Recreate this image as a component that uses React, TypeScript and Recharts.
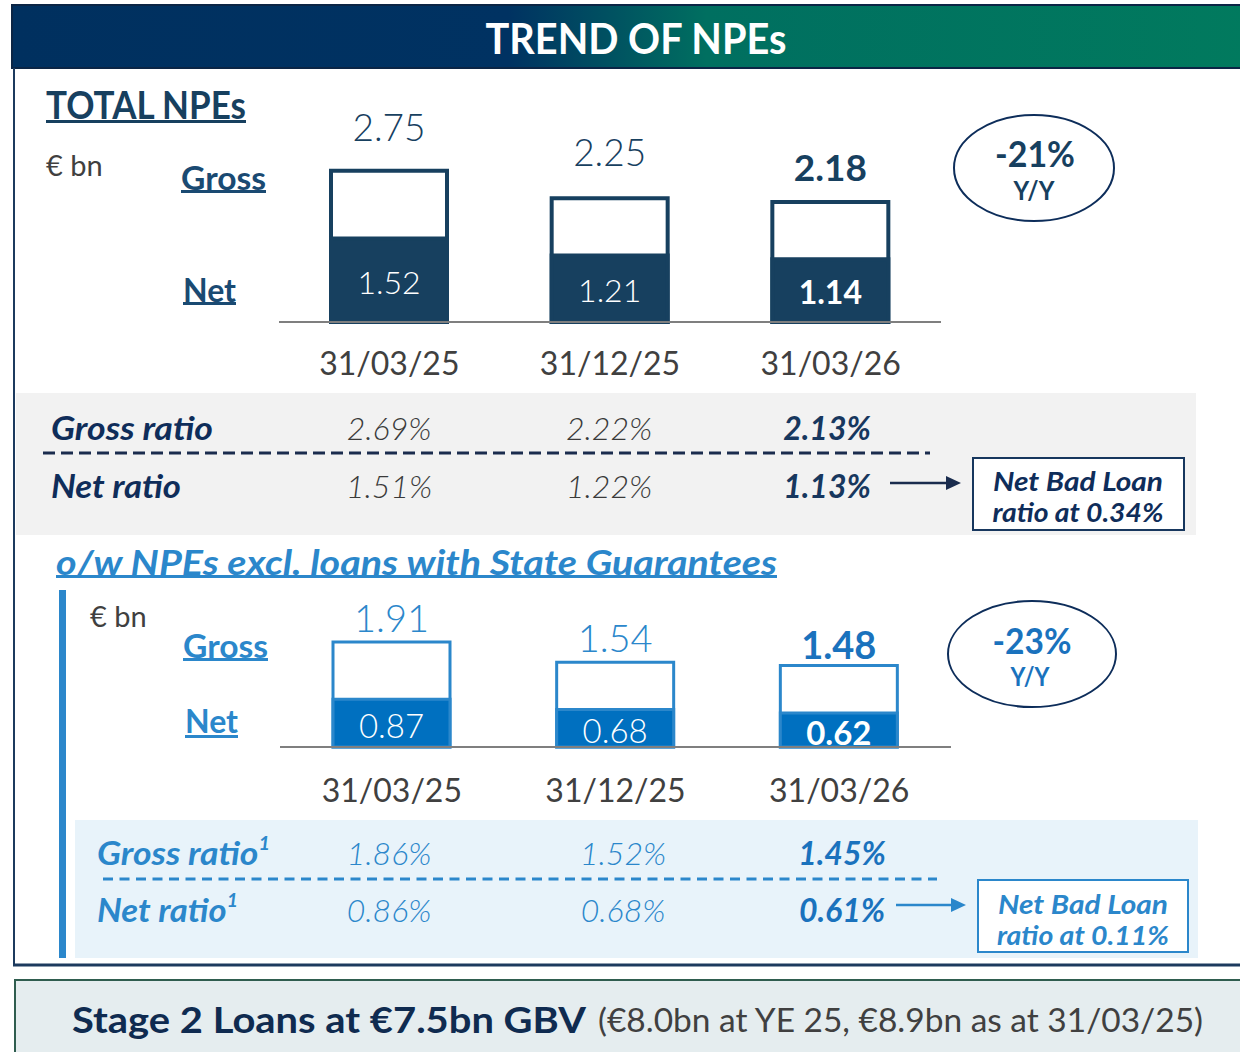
import React from 'react';
import { BarChart, Bar, XAxis, YAxis, LabelList } from 'recharts';

// ---------- DATA ----------
const categories = ['31/03/25', '31/12/25', '31/03/26'];
const totalGross = [2.75, 2.25, 2.18];
const totalNet = [1.52, 1.21, 1.14];
const totalGrossRatio = ['2.69%', '2.22%', '2.13%'];
const totalNetRatio = ['1.51%', '1.22%', '1.13%'];
const exclGross = [1.91, 1.54, 1.48];
const exclNet = [0.87, 0.68, 0.62];
const exclGrossRatio = ['1.86%', '1.52%', '1.45%'];
const exclNetRatio = ['0.86%', '0.68%', '0.61%'];
const totalYoY = '-21%';
const exclYoY = '-23%';
const totalNetBadLoan = 'ratio at 0.34%';
const exclNetBadLoan = 'ratio at 0.11%';
const stage2Main = 'Stage 2 Loans at €7.5bn GBV';
const stage2Note = '(€8.0bn at YE 25, €8.9bn as at 31/03/25)';

const totalData = categories.map((c, i) => ({ cat: c, gross: totalGross[i], net: totalNet[i] }));
const exclData = categories.map((c, i) => ({ cat: c, gross: exclGross[i], net: exclNet[i] }));

// ---------- STYLE ----------
const FONT = "Lato, 'Open Sans', 'DejaVu Sans', sans-serif";
const NAVY = '#17405f';
const DARK = '#0f2d5a';
const LBL = '#1a4a72';
const BLUE = '#2b87cb';
const BLUE_B = '#1a72bd';
const BLUE_FILL = '#0070c0';
const GREY = '#404040';

type TP = {
  x: number; y: number; children: React.ReactNode; size: number; color: string;
  weight?: number; italic?: boolean; anchor?: 'start' | 'middle' | 'end'; len?: number;
};
const T = ({ x, y, children, size, color, weight = 400, italic = false, anchor = 'start', len }: TP) => (
  <text
    x={x}
    y={y}
    dominantBaseline="central"
    textAnchor={anchor}
    fontFamily={FONT}
    fontSize={size}
    fontWeight={weight}
    fontStyle={italic ? 'italic' : 'normal'}
    fill={color}
    textLength={len}
    lengthAdjust={len ? 'spacingAndGlyphs' : undefined}
  >
    {children}
  </text>
);

function geom(p: any) {
  const vb = p && p.viewBox && typeof p.viewBox.x === 'number' ? p.viewBox : p;
  return { x: Number(vb.x), y: Number(vb.y), w: Number(vb.width), h: Number(vb.height) };
}

type ChartProps = {
  data: { cat: string; gross: number; net: number }[];
  left: number; top: number; width: number; height: number;
  marginTop: number; axisH: number; yMax: number;
  barW: number; grossStroke: string; grossSW: number;
  netFill: string; netStroke: string; netSW: number;
  topColor: string; topBoldColor: string; topGaps: number[]; topSize: number;
  netSize: number; netDy: number; tickDy: number;
};

function NpeBars(c: ChartProps) {
  const topLabel = (p: any) => {
    const g = geom(p);
    const i = Number(p.index ?? 0);
    const bold = i === c.data.length - 1;
    return (
      <text
        x={g.x + g.w / 2}
        y={g.y - c.topGaps[i]}
        textAnchor="middle"
        dominantBaseline="central"
        fontFamily={FONT}
        fontSize={c.topSize}
        fontWeight={bold ? 700 : 300}
        fill={bold ? c.topBoldColor : c.topColor}
      >
        {Number(p.value).toFixed(2)}
      </text>
    );
  };
  const netLabel = (p: any) => {
    const g = geom(p);
    const i = Number(p.index ?? 0);
    const bold = i === c.data.length - 1;
    return (
      <text
        x={g.x + g.w / 2}
        y={g.y + g.h / 2 + c.netDy}
        textAnchor="middle"
        dominantBaseline="central"
        fontFamily={FONT}
        fontSize={c.netSize}
        fontWeight={bold ? 700 : 300}
        fill="#ffffff"
      >
        {Number(p.value).toFixed(2)}
      </text>
    );
  };
  const tick = (p: any) => (
    <text
      x={p.x}
      y={p.y + c.tickDy}
      textAnchor="middle"
      dominantBaseline="central"
      fontFamily={FONT}
      fontSize={32}
      fontWeight={400}
      fill={GREY}
    >
      {p.payload.value}
    </text>
  );
  return (
    <div style={{ position: 'absolute', left: c.left, top: c.top, width: c.width, height: c.height }}>
      <BarChart
        width={c.width}
        height={c.height}
        data={c.data}
        margin={{ top: c.marginTop, right: 0, bottom: 0, left: 0 }}
      >
        <XAxis
          xAxisId="g"
          dataKey="cat"
          height={c.axisH}
          tickLine={false}
          tickSize={0}
          tickMargin={0}
          axisLine={{ stroke: '#7f7f7f', strokeWidth: 2 }}
          tick={tick}
          interval={0}
        />
        <XAxis xAxisId="n" dataKey="cat" hide />
        <YAxis hide domain={[0, c.yMax]} />
        <Bar
          xAxisId="g"
          dataKey="gross"
          barSize={c.barW}
          fill="#ffffff"
          stroke={c.grossStroke}
          strokeWidth={c.grossSW}
          isAnimationActive={false}
        >
          <LabelList dataKey="gross" content={topLabel} />
        </Bar>
        <Bar
          xAxisId="n"
          dataKey="net"
          barSize={c.barW}
          fill={c.netFill}
          stroke={c.netStroke}
          strokeWidth={c.netSW}
          isAnimationActive={false}
        >
          <LabelList dataKey="net" content={netLabel} />
        </Bar>
      </BarChart>
    </div>
  );
}

const colTop = [389, 609, 827];
const colBot = [389, 623, 842];

function RatioRow({ xs, y, values, color, boldColor, size }: { xs: number[]; y: number; values: string[]; color: string; boldColor: string; size: number }) {
  return (
    <>
      {values.map((v, i) => {
        const bold = i === values.length - 1;
        return (
          <T key={i} x={xs[i]} y={y} size={size} color={bold ? boldColor : color} weight={bold ? 700 : 300} italic anchor="middle">
            {v}
          </T>
        );
      })}
    </>
  );
}

export default function App() {
  return (
    <div style={{ position: 'absolute', left: 0, top: 0, width: 1240, height: 1052, background: '#ffffff', overflow: 'hidden' }}>
      <svg width={1240} height={1052} style={{ position: 'absolute', left: 0, top: 0 }}>
        <defs>
          <linearGradient id="titleGrad" x1="0" x2="1" y1="0" y2="0">
            <stop offset="0" stopColor="#00305f" />
            <stop offset="0.40" stopColor="#003262" />
            <stop offset="0.56" stopColor="#006f60" />
            <stop offset="1" stopColor="#017a5e" />
          </linearGradient>
        </defs>

        {/* title bar */}
        <rect x={12} y={5} width={1240} height={63} fill="url(#titleGrad)" stroke="#0b2545" strokeWidth={2} />
        <T x={636} y={38} size={42} weight={700} color="#ffffff" anchor="middle" len={301}>TREND OF NPEs</T>

        {/* frame */}
        <line x1={14} y1={68} x2={14} y2={966} stroke="#1c3a5e" strokeWidth={2} />
        <line x1={13} y1={965} x2={1240} y2={965} stroke="#1c3a5e" strokeWidth={3} />

        {/* grey band */}
        <rect x={16} y={393} width={1180} height={142} fill="#f2f2f2" />

        {/* TOTAL NPEs header */}
        <T x={46} y={104} size={38} weight={700} color={NAVY} len={200}>TOTAL NPEs</T>
        <rect x={46} y={120} width={200} height={3} fill={NAVY} />
        <T x={46} y={164} size={29} color={GREY}>€ bn</T>
        <T x={181} y={177} size={32} weight={700} color={LBL} len={85}>Gross</T>
        <rect x={181} y={190} width={85} height={3} fill={LBL} />
        <T x={183} y={289} size={32} weight={700} color={LBL} len={53}>Net</T>
        <rect x={183} y={302} width={53} height={3} fill={LBL} />

        {/* Y/Y ellipse 1 */}
        <ellipse cx={1034} cy={168} rx={80} ry={53} fill="none" stroke="#0d2d5a" strokeWidth={2} />
        <T x={1035} y={153} size={36} weight={700} color={NAVY} anchor="middle" len={80}>{totalYoY}</T>
        <T x={1034} y={190} size={26} weight={700} color={NAVY} anchor="middle" len={41}>Y/Y</T>

        {/* ratios 1 */}
        <T x={51} y={427} size={32} weight={700} italic color={DARK} len={162}>Gross ratio</T>
        <RatioRow xs={colTop} y={427} values={totalGrossRatio} color="#3a3a3a" boldColor="#17375e" size={32} />
        <line x1={43} y1={453} x2={930} y2={453} stroke="#1a2c4e" strokeWidth={3} strokeDasharray="12 6" />
        <T x={51} y={485} size={32} weight={700} italic color={DARK} len={130}>Net ratio</T>
        <RatioRow xs={colTop} y={485} values={totalNetRatio} color="#3a3a3a" boldColor="#17375e" size={32} />
        <line x1={890} y1={483} x2={948} y2={483} stroke="#1a2c4e" strokeWidth={2.5} />
        <polygon points="946,476 961,483 946,490" fill="#1a2c4e" />
        <rect x={973} y={458} width={211} height={72} fill="#ffffff" stroke="#17375e" strokeWidth={2} />
        <T x={1078} y={480} size={27} weight={700} italic color={DARK} anchor="middle" len={170}>Net Bad Loan</T>
        <T x={1078} y={511} size={27} weight={700} italic color={DARK} anchor="middle" len={171}>{totalNetBadLoan}</T>

        {/* o/w section */}
        <T x={56} y={561} size={34} weight={700} italic color={BLUE} len={721}>o/w NPEs excl. loans with State Guarantees</T>
        <rect x={56} y={575} width={721} height={3} fill={BLUE} />
        <rect x={59} y={590} width={7} height={368} fill={BLUE} />
        <rect x={75} y={820} width={1123} height={138} fill="#e8f3fa" />
        <T x={90} y={615} size={29} color={GREY}>€ bn</T>
        <T x={183} y={645} size={32} weight={700} color={BLUE} len={85}>Gross</T>
        <rect x={183} y={658} width={85} height={3} fill={BLUE} />
        <T x={185} y={720} size={32} weight={700} color={BLUE} len={53}>Net</T>
        <rect x={185} y={735} width={53} height={3} fill={BLUE} />

        {/* Y/Y ellipse 2 */}
        <ellipse cx={1032} cy={654} rx={84} ry={53} fill="none" stroke="#0d2d5a" strokeWidth={2} />
        <T x={1032} y={640} size={36} weight={700} color={BLUE_B} anchor="middle" len={79}>{exclYoY}</T>
        <T x={1030} y={676} size={26} weight={700} color={BLUE_B} anchor="middle" len={39}>Y/Y</T>

        {/* ratios 2 */}
        <text x={97} y={852} dominantBaseline="central" fontFamily={FONT} fontSize={32} fontWeight={700} fontStyle="italic" fill={BLUE} textLength={173} lengthAdjust="spacingAndGlyphs">
          Gross ratio<tspan fontSize={18} dy={-9}>1</tspan>
        </text>
        <RatioRow xs={colBot} y={852} values={exclGrossRatio} color={BLUE} boldColor={BLUE_B} size={32} />
        <line x1={103} y1={879} x2={937} y2={879} stroke={BLUE} strokeWidth={3} strokeDasharray="10 6.5" />
        <text x={97} y={909} dominantBaseline="central" fontFamily={FONT} fontSize={32} fontWeight={700} fontStyle="italic" fill={BLUE} textLength={141} lengthAdjust="spacingAndGlyphs">
          Net ratio<tspan fontSize={18} dy={-9}>1</tspan>
        </text>
        <RatioRow xs={colBot} y={909} values={exclNetRatio} color={BLUE} boldColor={BLUE_B} size={32} />
        <line x1={896} y1={905} x2={953} y2={905} stroke={BLUE} strokeWidth={2.5} />
        <polygon points="951,898 966,905 951,912" fill={BLUE} />
        <rect x={978} y={880} width={210} height={72} fill="#ffffff" stroke={BLUE} strokeWidth={2} />
        <T x={1083} y={903} size={27} weight={700} italic color={BLUE} anchor="middle" len={170}>Net Bad Loan</T>
        <T x={1083} y={934} size={27} weight={700} italic color={BLUE} anchor="middle" len={172}>{exclNetBadLoan}</T>

        {/* bottom stage 2 box */}
        <rect x={15} y={980} width={1240} height={80} fill="#e5edef" stroke="#2f5d4f" strokeWidth={2} />
        <T x={72} y={1019} size={36} weight={700} color="#0f2b50" len={514}>{stage2Main}</T>
        <T x={598} y={1019} size={32} weight={400} color={GREY} len={605}>{stage2Note}</T>
      </svg>

      <NpeBars
        data={totalData}
        left={279} top={100} width={662} height={300}
        marginTop={57} axisH={78} yMax={3}
        barW={116} grossStroke={NAVY} grossSW={4}
        netFill={NAVY} netStroke={NAVY} netSW={4}
        topColor={NAVY} topBoldColor={NAVY} topGaps={[44, 47, 36]} topSize={37}
        netSize={32} netDy={1} tickDy={40}
      />
      <NpeBars
        data={exclData}
        left={280} top={590} width={671} height={217}
        marginTop={47} axisH={60} yMax={2}
        barW={117} grossStroke={BLUE} grossSW={3}
        netFill={BLUE_FILL} netStroke={BLUE} netSW={3}
        topColor={BLUE} topBoldColor={BLUE_B} topGaps={[25, 25, 22]} topSize={38}
        netSize={33} netDy={2} tickDy={42}
      />
    </div>
  );
}
